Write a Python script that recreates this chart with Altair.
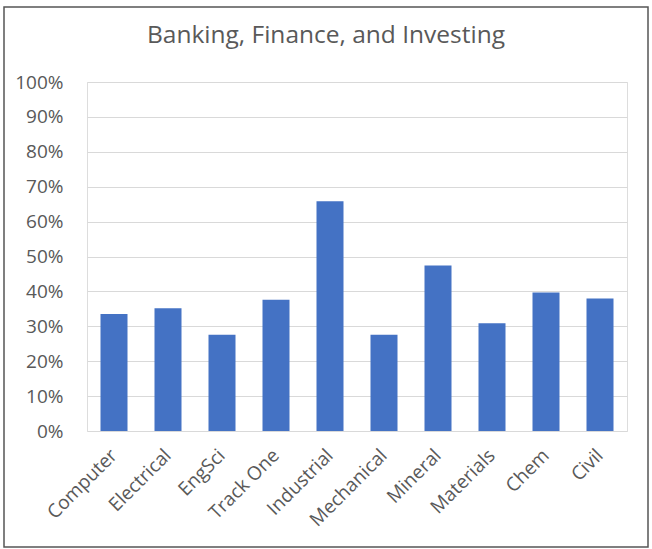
import altair as alt
import pandas as pd

categories = ["Computer", "Electrical", "EngSci", "Track One", "Industrial",
              "Mechanical", "Mineral", "Materials", "Chem", "Civil"]
values = [0.335, 0.352, 0.276, 0.376, 0.658, 0.276, 0.474, 0.309, 0.397, 0.380]
y_ticks = [i / 10 for i in range(11)]
title_text = "Banking, Finance, and Investing"

df = pd.DataFrame({"Program": categories, "Share": values})

FONT = "Open Sans"
TXT = "#595959"

bars = alt.Chart(df).mark_bar(color="#4472C4").encode(
    x=alt.X("Program:N", sort=categories, title=None,
            scale=alt.Scale(paddingInner=0.5, paddingOuter=0.25),
            axis=alt.Axis(labelAngle=-45, labelAlign="right", labelBaseline="middle",
                          labelPadding=21, domain=False, ticks=False, grid=False,
                          labelFont=FONT, labelFontSize=19, labelColor=TXT)),
    y=alt.Y("Share:Q", title=None,
            scale=alt.Scale(domain=[0, 1]),
            axis=alt.Axis(values=y_ticks, format=".0%", domain=False, ticks=False,
                          grid=True, gridColor="#d9d9d9", gridWidth=1.2,
                          labelPadding=24, labelFont=FONT, labelFontSize=19,
                          labelColor=TXT)),
)

title = alt.Chart(pd.DataFrame({"t": [title_text]})).mark_text(
    font=FONT, fontSize=24.5, color=TXT, align="center", baseline="alphabetic"
).encode(text="t:N", x=alt.value(239), y=alt.value(-39))

border = alt.Chart(pd.DataFrame({"a": [0]})).mark_rect(
    filled=False, stroke="#555555", strokeWidth=1.5
).encode(
    x=alt.value(-83), x2=alt.value(561), y=alt.value(-75), y2=alt.value(465)
)

chart = alt.layer(bars, title, border).properties(
    width=540, height=349,
    autosize=alt.AutoSizeParams(type="none"),
    padding={"left": 87, "top": 82, "right": 25, "bottom": 118},
).configure_view(stroke="transparent", strokeWidth=0).configure(background="white")

chart.save("out.html", embed_options={"renderer": "svg", "actions": False})
